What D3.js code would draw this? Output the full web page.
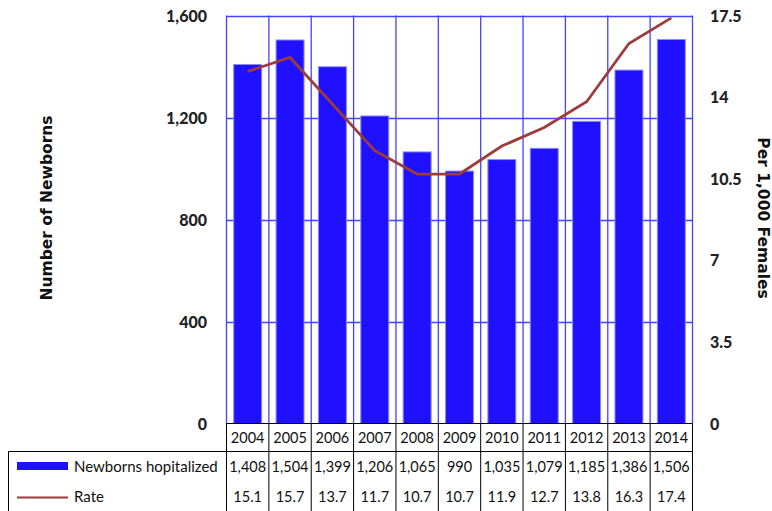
<!DOCTYPE html>
<html><head><meta charset="utf-8">
<script src="https://cdn.jsdelivr.net/npm/d3@7"></script>
<style>body{margin:0;background:#fff}svg{display:block}</style>
</head><body>
<svg id="c" width="772" height="511"></svg>
<script>
const years = ["2004","2005","2006","2007","2008","2009","2010","2011","2012","2013","2014"];
const newborns = [1408,1504,1399,1206,1065,990,1035,1079,1185,1386,1506];
const rate = [15.1,15.7,13.7,11.7,10.7,10.7,11.9,12.7,13.8,16.3,17.4];
const leftTicks = [0,400,800,1200,1600];
const rightTicks = [0,3.5,7,10.5,14,17.5];
const rightTickLabels = ["0","3.5","7","10.5","14","17.5"];
const seriesNames = ["Newborns hopitalized","Rate"];

const svg = d3.select("#c");
const L=226.5, R=692.5, T=15.5, B=423.5;
const font = "Lato, 'Open Sans', sans-serif";
const tfont = "'DejaVu Sans', Verdana, sans-serif";
const x = d3.scaleBand().domain(years).range([L,R]).paddingInner(0.34).paddingOuter(0.17);
const xb = d3.scaleBand().domain(years).range([L,R]);
const y = d3.scaleLinear().domain([0,1600]).range([B,T]);
const y2 = d3.scaleLinear().domain([0,17.5]).range([B,T]);
const blue="#1f10ff", grid="#4444ff", red="#9e3b3b";

// gridlines
svg.append("g").selectAll("line").data(leftTicks.slice(1)).join("line")
  .attr("x1",L).attr("x2",R).attr("y1",d=>Math.round(y(d))+0.5).attr("y2",d=>Math.round(y(d))+0.5)
  .attr("stroke",grid).attr("stroke-width",1.3);
const vb = years.map(d=>xb(d)).concat([R]);
svg.append("g").selectAll("line").data(vb).join("line")
  .attr("x1",d=>d).attr("x2",d=>d).attr("y1",T).attr("y2",B)
  .attr("stroke",grid).attr("stroke-width",1.3);

// bars
svg.append("g").selectAll("rect").data(newborns).join("rect")
  .attr("x",(d,i)=>x(years[i])).attr("width",x.bandwidth())
  .attr("y",d=>y(d)).attr("height",d=>B-y(d))
  .attr("fill",blue).attr("stroke","#8a8aff").attr("stroke-width",1);

// line
svg.append("path").datum(rate)
  .attr("d",d3.line().x((d,i)=>xb(years[i])+xb.bandwidth()/2).y(d=>y2(d)))
  .attr("fill","none").attr("stroke",red).attr("stroke-width",2.8);

// left axis labels
svg.append("g").selectAll("text").data(leftTicks).join("text")
  .attr("x",207).attr("y",d=>y(d)+6).attr("text-anchor","end")
  .attr("font-family",font).attr("font-weight",900).attr("font-size",16).attr("fill","#222")
  .text(d=>d3.format(",")(d));
// right axis labels
svg.append("g").selectAll("text").data(rightTicks).join("text")
  .attr("x",710).attr("y",d=>y2(d)+6).attr("text-anchor","start")
  .attr("font-family",font).attr("font-weight",900).attr("font-size",16).attr("fill","#222")
  .text((d,i)=>rightTickLabels[i]);

// axis titles
svg.append("text").attr("transform","translate(52,208) rotate(-90)").attr("text-anchor","middle")
  .attr("font-family",tfont).attr("font-weight","bold").attr("font-size",15.5).attr("fill","#111")
  .text("Number of Newborns");
svg.append("text").attr("transform","translate(758,218) rotate(90)").attr("text-anchor","middle")
  .attr("font-family",tfont).attr("font-weight","bold").attr("font-size",15.5).attr("fill","#111")
  .text("Per 1,000 Females");

// data table
const tb = svg.append("g");
const r1=423.5, r2=451.5, r3=511.5;
tb.append("line").attr("x1",L).attr("x2",R).attr("y1",r1).attr("y2",r1).attr("stroke","#000");
tb.append("line").attr("x1",8.5).attr("x2",R).attr("y1",r2).attr("y2",r2).attr("stroke","#000");
tb.append("line").attr("x1",8.5).attr("x2",8.5).attr("y1",r2).attr("y2",r3).attr("stroke","#000");
tb.selectAll(".v").data(vb).join("line").attr("class","v")
  .attr("x1",d=>d).attr("x2",d=>d).attr("y1",r1).attr("y2",r3).attr("stroke","#000");
const cx = d=>xb(d)+xb.bandwidth()/2;
tb.selectAll(".yr").data(years).join("text").attr("class","yr")
  .attr("x",cx).attr("y",443).attr("text-anchor","middle")
  .attr("font-family",font).attr("font-size",14.5).attr("fill","#111").text(d=>d);
tb.selectAll(".nb").data(newborns).join("text").attr("class","nb")
  .attr("x",(d,i)=>cx(years[i])).attr("y",472).attr("text-anchor","middle")
  .attr("font-family",font).attr("font-size",14.5).attr("fill","#111").text(d=>d3.format(",")(d));
tb.selectAll(".rt").data(rate).join("text").attr("class","rt")
  .attr("x",(d,i)=>cx(years[i])).attr("y",502).attr("text-anchor","middle")
  .attr("font-family",font).attr("font-size",14.5).attr("fill","#111").text(d=>d.toFixed(1));

// legend
tb.append("rect").attr("x",17).attr("y",462).attr("width",51).attr("height",8).attr("fill",blue);
tb.append("line").attr("x1",17).attr("x2",68).attr("y1",497.5).attr("y2",497.5).attr("stroke",red).attr("stroke-width",2);
tb.selectAll(".lg").data(seriesNames).join("text").attr("class","lg")
  .attr("x",74).attr("y",(d,i)=>i?502:472)
  .attr("font-family",font).attr("font-size",15).attr("fill","#111").text(d=>d);
</script>
</body></html>
